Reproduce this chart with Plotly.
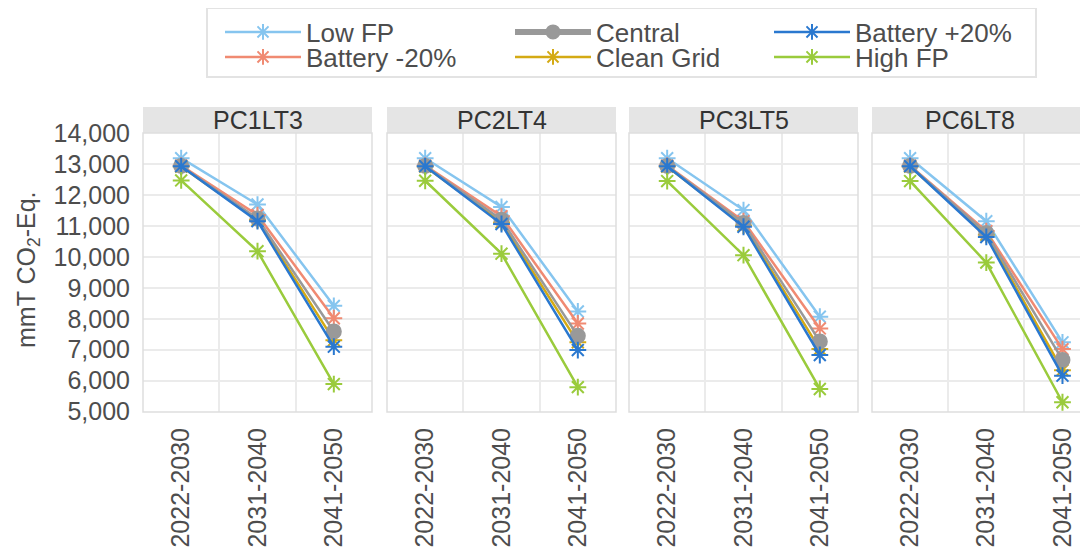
import plotly.graph_objects as go

periods = ["2022-2030", "2031-2040", "2041-2050"]
panels = ["PC1LT3", "PC2LT4", "PC3LT5", "PC6LT8"]

low_fp = {"PC1LT3": [13200, 11700, 8420], "PC2LT4": [13200, 11620, 8240],
          "PC3LT5": [13200, 11520, 8070], "PC6LT8": [13200, 11160, 7240]}
battery_m20 = {"PC1LT3": [12960, 11360, 8020], "PC2LT4": [12960, 11320, 7850],
               "PC3LT5": [12960, 11160, 7690], "PC6LT8": [12960, 10840, 7020]}
central = {"PC1LT3": [12950, 11250, 7590], "PC2LT4": [12950, 11210, 7450],
           "PC3LT5": [12950, 11100, 7270], "PC6LT8": [12950, 10780, 6670]}
clean_grid = {"PC1LT3": [12930, 11200, 7310], "PC2LT4": [12930, 11120, 7240],
              "PC3LT5": [12930, 11020, 7020], "PC6LT8": [12930, 10720, 6340]}
battery_p20 = {"PC1LT3": [12940, 11160, 7100], "PC2LT4": [12940, 11070, 6990],
               "PC3LT5": [12940, 10980, 6830], "PC6LT8": [12940, 10650, 6160]}
high_fp = {"PC1LT3": [12480, 10190, 5890], "PC2LT4": [12470, 10110, 5790],
           "PC3LT5": [12460, 10060, 5730], "PC6LT8": [12460, 9820, 5300]}

legend_rows = [["Low FP", "Central", "Battery +20%"],
               ["Battery -20%", "Clean Grid", "High FP"]]
draw_order = ["Low FP", "Battery -20%", "Clean Grid", "Central", "Battery +20%", "High FP"]

series = {"Low FP": low_fp, "Battery -20%": battery_m20, "Central": central,
          "Clean Grid": clean_grid, "Battery +20%": battery_p20, "High FP": high_fp}
colors = {"Low FP": "#86C5EF", "Battery -20%": "#F08A72", "Central": "#999999",
          "Clean Grid": "#D4AA14", "Battery +20%": "#2A78CF", "High FP": "#9ACB3C"}

TXT = "#4d4d4d"
GRID = "#ebebeb"
FONT = "Liberation Sans, Arial, sans-serif"

OFF = 8  # page body margin
W, H = 1088 - OFF, 556 - OFF
L, R = 143 - OFF, 0
T = 133 - OFF
B = H - (412 - OFF)
pw = W - L - R
ph = H - T - B
def px_x(v):
    return (v - OFF - L) / pw
def px_y(v):
    return (H - B - (v - OFF)) / ph

panel_px = [(143, 372), (387, 616), (629, 858), (872, 1088)]
domains = [[px_x(a), min(1.0, px_x(b))] for a, b in panel_px]
xranges = [[-0.5, 2.5], [-0.5, 2.5], [-0.5, 2.5], [-0.5, 2.335]]

fig = go.Figure()
xs = list(range(len(periods)))

for i, p in enumerate(panels):
    xa = "x" if i == 0 else f"x{i+1}"
    for name in draw_order:
        is_c = name == "Central"
        fig.add_trace(go.Scatter(
            x=xs, y=series[name][p], mode="lines+markers", name=name,
            xaxis=xa, yaxis="y", showlegend=False,
            line=dict(color=colors[name], width=2.5),
            marker=dict(symbol="circle" if is_c else "asterisk-open",
                        size=14, color=colors[name],
                        line=dict(color=colors[name], width=2)),
        ))

col_left = [220, 510, 769]
row_y = [32, 57]
layout_legends = {}
k = 0
for r, row in enumerate(legend_rows):
    for c, name in enumerate(row):
        k += 1
        lg = "legend" if k == 1 else f"legend{k}"
        is_c = name == "Central"
        fig.add_trace(go.Scatter(
            x=[None], y=[None], mode="lines+markers", name=name, xaxis="x", yaxis="y",
            legend=lg,
            line=dict(color=colors[name], width=6 if is_c else 2.5),
            marker=dict(symbol="circle" if is_c else "asterisk-open",
                        size=13, color=colors[name],
                        line=dict(color=colors[name], width=2)),
        ))
        layout_legends[lg] = dict(
            orientation="h", xanchor="left", yanchor="middle",
            x=px_x(col_left[c]), y=px_y(row_y[r]),
            bgcolor="rgba(0,0,0,0)", borderwidth=0,
            font=dict(size=26, color=TXT, family=FONT),
            itemwidth=76)

layout = dict(
    width=W, height=H, autosize=False,
    margin=dict(l=L, r=R, t=T, b=B, pad=0, autoexpand=False),
    paper_bgcolor="white", plot_bgcolor="white",
    font=dict(family=FONT, color=TXT, size=25),
    showlegend=True,
    yaxis=dict(range=[4985, 14015], tickvals=list(range(5000, 14001, 1000)),
               tickformat=",d", showgrid=True, gridcolor=GRID, gridwidth=1.5,
               zeroline=False, ticks="", ticklabelstandoff=12, automargin=False,
               tickfont=dict(size=25, color=TXT), anchor="x", showline=False),
)
layout.update(layout_legends)

shapes = []
annotations = []
for i, p in enumerate(panels):
    key = "xaxis" if i == 0 else f"xaxis{i+1}"
    layout[key] = dict(
        domain=domains[i], range=xranges[i], anchor="y", automargin=False,
        tickvals=xs, ticktext=periods, tickangle=-90,
        showgrid=False, zeroline=False, ticks="", ticklabelstandoff=10,
        tickfont=dict(size=25, color=TXT),
        minor=dict(tickvals=[0.5, 1.5], showgrid=True, gridcolor=GRID, gridwidth=1.5, ticks=""),
    )
    x0p, x1p = domains[i]
    ext = 0.01 if i == 3 else 0
    shapes.append(dict(type="rect", xref="paper", yref="paper", x0=x0p, x1=x1p + ext,
                       y0=0, y1=1, line=dict(color="#dedede", width=1.5),
                       fillcolor="rgba(0,0,0,0)", layer="above"))
    shapes.append(dict(type="rect", xref="paper", yref="paper", x0=x0p, x1=x1p + ext,
                       y0=1, y1=px_y(107), line=dict(width=0), fillcolor="#e5e5e5",
                       layer="below"))
    cx = (x0p + x1p) / 2 if i < 3 else px_x(970)
    annotations.append(dict(text=p, xref="paper", yref="paper", x=cx, y=px_y(120),
                            xanchor="center", yanchor="middle", showarrow=False,
                            font=dict(size=25, color="#333333", family=FONT)))

# legend frame
shapes.append(dict(type="rect", xref="paper", yref="paper", x0=px_x(207), x1=px_x(1036),
                   y0=px_y(77), y1=px_y(8), line=dict(color="#e3e3e3", width=2),
                   fillcolor="rgba(0,0,0,0)", layer="below"))

annotations.append(dict(text="mmT CO<sub>2</sub>-Eq.", xref="paper", yref="paper",
                        x=px_x(28), y=px_y(270), xanchor="center", yanchor="middle",
                        textangle=-90, showarrow=False,
                        font=dict(size=25, color=TXT, family=FONT)))

layout["shapes"] = shapes
layout["annotations"] = annotations
fig.update_layout(**layout)
fig.write_html("out.html")
